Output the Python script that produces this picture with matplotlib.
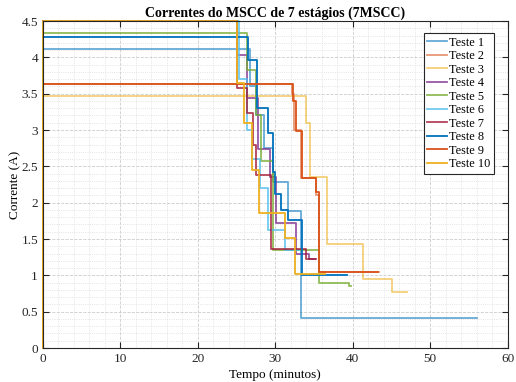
import matplotlib.pyplot as plt
import numpy as np

plt.rcParams['font.family'] = ['Liberation Serif', 'DejaVu Serif']

# stage start times (min) and currents (A) for each test; last pair closes the curve
t1 = [0, 0, 26.7, 27.5, 28.6, 29.7, 31.6, 33.3, 56.0]
i1 = [0, 4.12, 3.6, 3.2, 2.75, 2.29, 1.88, 0.41, 0.41]
t2 = [0, 0, 32.1, 32.4, 33.3, 35.3, 35.7, 43.4]
i2 = [0, 3.63, 3.49, 3.0, 2.34, 2.1, 1.05, 1.05]
t3 = [0, 0, 34.0, 34.5, 36.7, 41.3, 45.1, 47.0]
i3 = [0, 3.47, 3.1, 2.36, 1.43, 0.95, 0.77, 0.77]
t4 = [0, 0, 25.1, 26.3, 27.8, 29.3, 30.1, 32.7, 34.4, 35.1]
i4 = [0, 4.5, 4.03, 3.44, 2.74, 2.35, 1.72, 1.3, 1.22, 1.22]
t5 = [0, 0, 26.4, 27.5, 28.2, 29.7, 35.6, 39.5, 39.8]
i5 = [0, 4.33, 3.82, 3.2, 2.57, 1.35, 0.9, 0.85, 0.85]
t6 = [0, 0, 25.3, 26.4, 27.0, 28.0, 29.0, 31.2, 33.0]
i6 = [0, 4.5, 3.7, 3.0, 2.6, 2.2, 1.62, 1.35, 1.35]
t7 = [0, 0, 25.0, 26.3, 27.1, 27.5, 29.4, 34.0, 35.2]
i7 = [0, 4.5, 3.58, 3.24, 2.8, 2.38, 1.36, 1.22, 1.22]
t8 = [0, 0, 26.5, 27.7, 29.0, 29.7, 30.0, 30.8, 31.6, 33.4, 39.3]
i8 = [0, 4.28, 3.96, 3.3, 2.96, 2.42, 2.12, 1.9, 1.76, 1.0, 1.0]
t9 = [0, 0, 32.3, 32.7, 33.4, 35.2, 35.6, 43.2]
i9 = [0, 3.63, 3.4, 2.98, 2.34, 2.14, 1.05, 1.05]
t10 = [0, 0, 25.0, 26.0, 27.0, 27.9, 31.2, 32.6, 36.4]
i10 = [0, 4.5, 3.65, 3.1, 2.45, 1.86, 1.51, 1.02, 1.02]

times = [t1, t2, t3, t4, t5, t6, t7, t8, t9, t10]
currents = [i1, i2, i3, i4, i5, i6, i7, i8, i9, i10]
labels = ['Teste %d' % k for k in range(1, 11)]

colors = [(0, 0.447, 0.741), (0.85, 0.325, 0.098), (0.929, 0.694, 0.125),
          (0.494, 0.184, 0.556), (0.466, 0.674, 0.188), (0.301, 0.745, 0.933),
          (0.635, 0.078, 0.184), (0, 0.447, 0.741), (0.85, 0.325, 0.098),
          (0.929, 0.694, 0.125)]
alphas = [0.6, 0.6, 0.6, 0.8, 0.8, 0.8, 0.8, 1, 1, 1]

fig = plt.figure(figsize=(5.16, 3.82), dpi=100)
ax = fig.add_axes([0.083, 0.089, 0.901, 0.856])

for t, i, c, a, lab in zip(times, currents, colors, alphas, labels):
    ax.step(t, i, where='post', color=c, alpha=a, lw=1.3, label=lab,
            clip_on=False)

ax.set_xlim(0, 60)
ax.set_ylim(0, 4.5)
ax.set_xticks(np.arange(0, 61, 10))
ax.set_yticks(np.arange(0, 4.51, 0.5))
ax.set_yticklabels(['0', '0.5', '1', '1.5', '2', '2.5', '3', '3.5', '4', '4.5'])
ax.set_xticks(np.arange(0, 61, 2), minor=True)
ax.set_yticks(np.arange(0, 4.51, 0.1), minor=True)
ax.tick_params(which='both', direction='in', top=True, right=True,
               labelsize=9.5, colors='0.15')
ax.tick_params(which='major', length=4)
ax.tick_params(which='minor', length=0)
ax.grid(which='major', ls='--', color='0.8', lw=0.6)
ax.grid(which='minor', ls=':', color='0.86', lw=0.6)
for s in ax.spines.values():
    s.set_color('0.15')
    s.set_linewidth(0.8)

ax.set_title('Correntes do MSCC de 7 estágios (7MSCC)', fontsize=10,
             fontweight='bold', pad=3)
ax.set_xlabel('Tempo (minutos)', fontsize=9.5, labelpad=3)
ax.set_ylabel('Corrente (A)', fontsize=9.5, labelpad=0)

leg = ax.legend(loc='upper right', bbox_to_anchor=(0.97, 0.963), fontsize=8.8,
                labelspacing=0.12, handlelength=1.6, handletextpad=0.15,
                borderpad=0.3, borderaxespad=0, fancybox=False,
                framealpha=1, edgecolor='0.15')
leg.get_frame().set_linewidth(0.8)

fig.savefig('out.png', dpi=100)
